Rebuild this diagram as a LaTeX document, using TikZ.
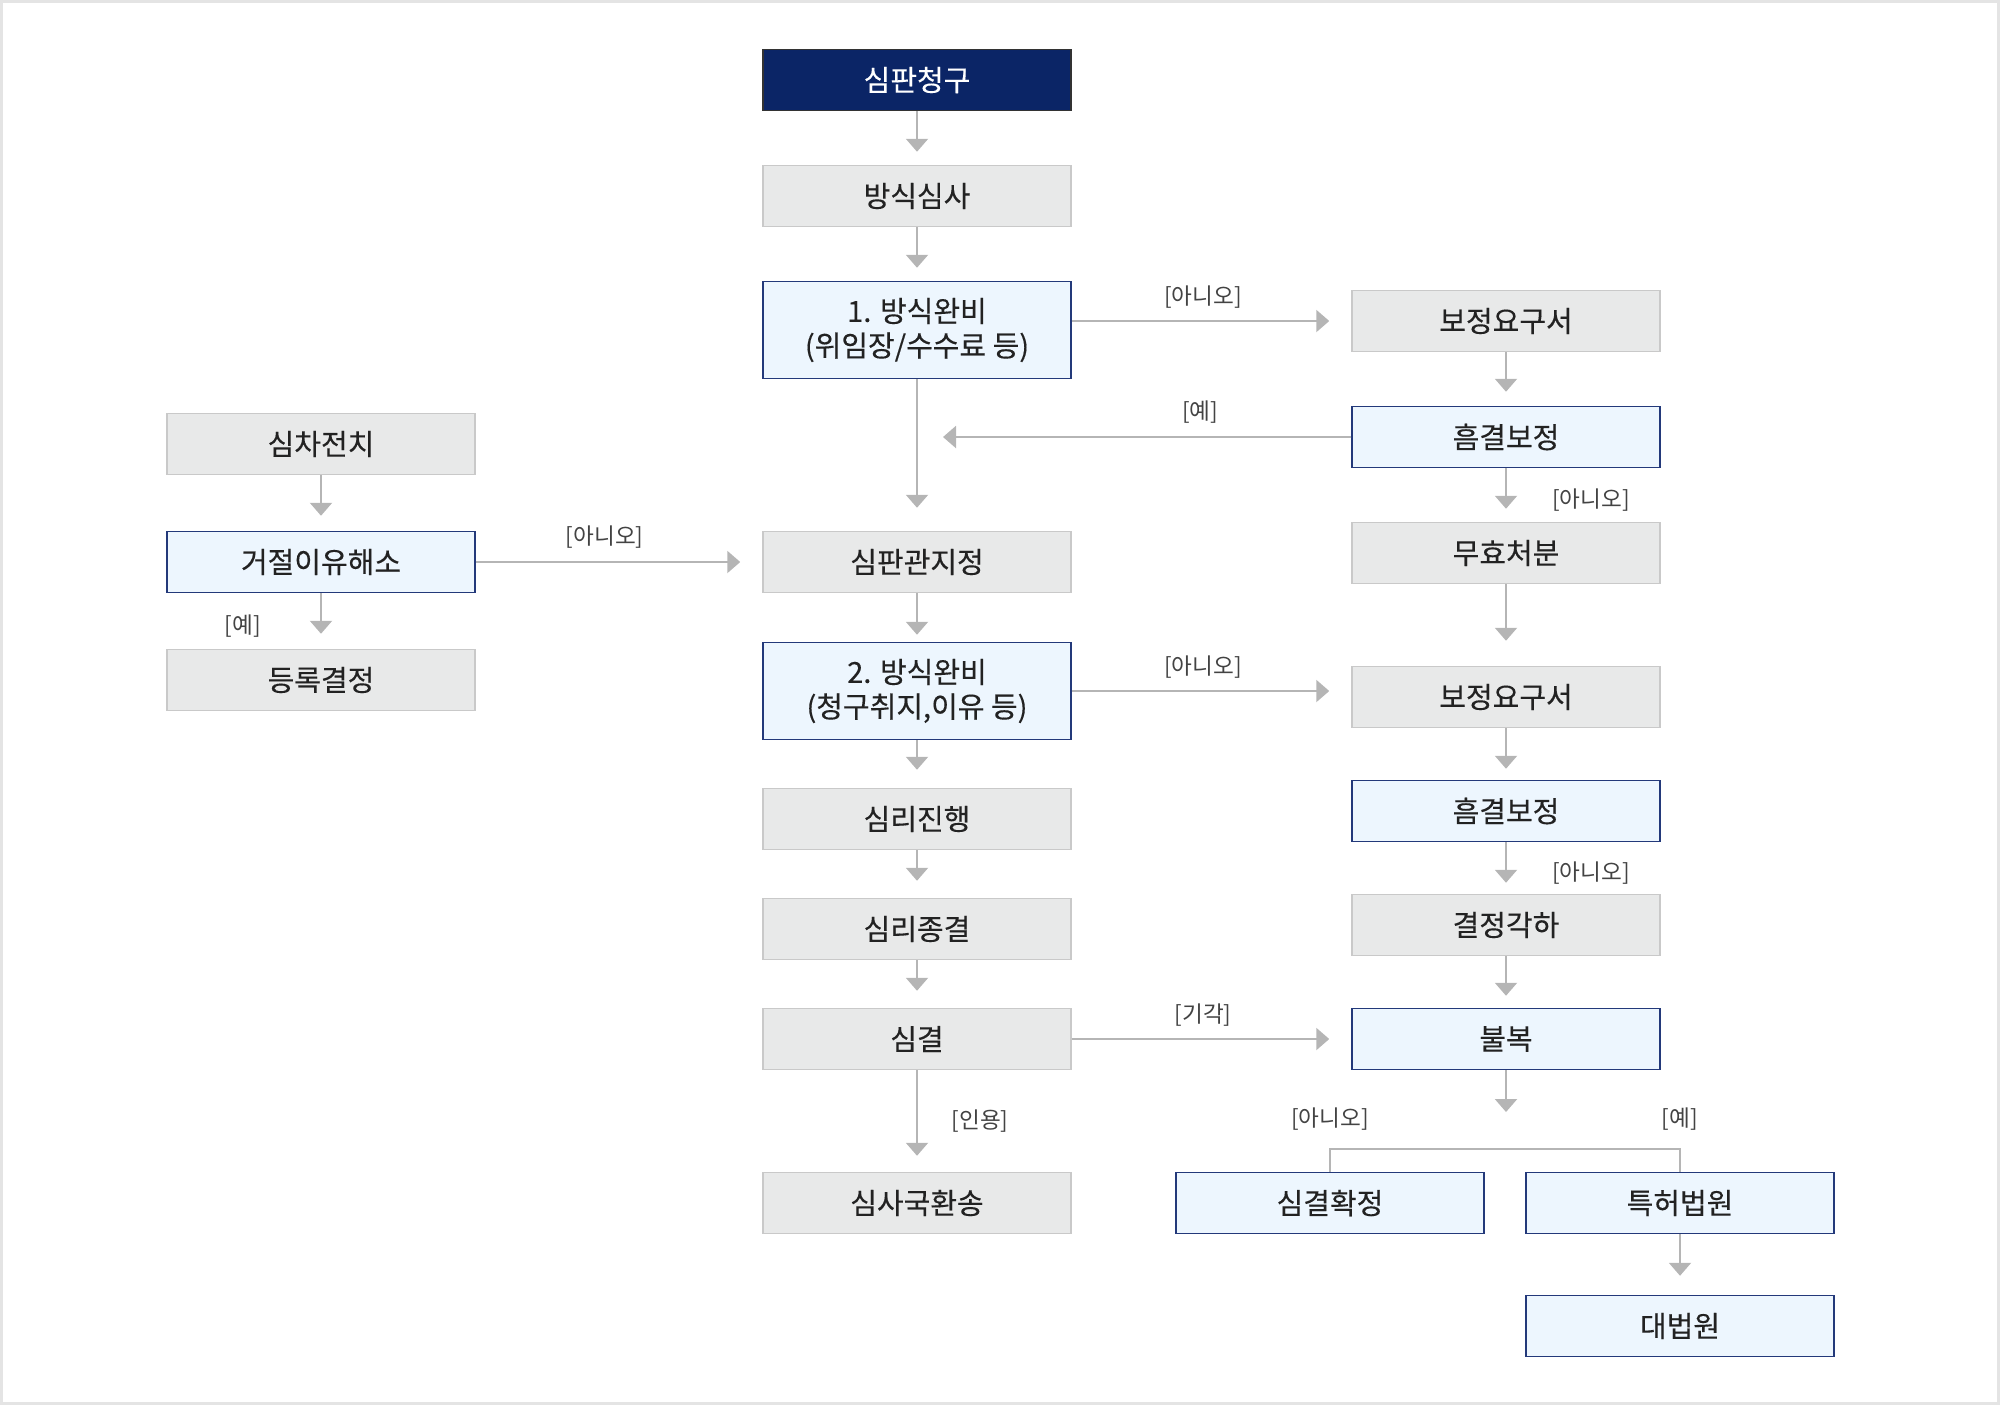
\documentclass[tikz,border=0pt]{standalone}
\usepackage{fontspec}
\setmainfont{Noto Sans CJK KR}
\newfontfamily\boxfont[FakeBold=0.3]{Noto Sans CJK KR}
\usetikzlibrary{arrows.meta}
\definecolor{navy}{HTML}{0B2566}
\definecolor{grayfill}{HTML}{E8E9E9}
\definecolor{grayline}{HTML}{C9C9C9}
\definecolor{bluefill}{HTML}{EDF6FE}
\definecolor{blueline}{HTML}{23397A}
\definecolor{arrowcol}{HTML}{B5B5B5}
\definecolor{txt}{HTML}{222222}
\definecolor{frame}{HTML}{E4E4E4}
\tikzset{
  boxbase/.style={rectangle, minimum width=154pt, minimum height=30.5pt, inner sep=0pt, align=center, text=txt, font=\boxfont\fontsize{14.5pt}{17.3pt}\selectfont, line width=0.75pt},
  graybox/.style={boxbase, fill=grayfill, draw=grayline},
  bluebox/.style={boxbase, fill=bluefill, draw=blueline},
  navybox/.style={boxbase, fill=navy, draw=black!80, text=white},
  tallbox/.style={minimum height=48.5pt},
  arr/.style={draw=arrowcol, line width=1.1pt, -{Triangle[width=11pt,length=6.5pt]}},
  ln/.style={draw=arrowcol, line width=1.1pt},
  lbl/.style={font=\fontsize{11.3pt}{13pt}\selectfont, text=txt!85, inner sep=0pt}
}
\begin{document}
\begin{tikzpicture}[x=0.5pt, y=-0.5pt]
\useasboundingbox (0,0) rectangle (2000,1405);
\draw[frame, line width=1.5pt] (1.5,1.5) rectangle (1998.5,1403.5);
% main column
\node[navybox] (top) at (917,80) {심판청구};
\node[graybox] (fs) at (917,196) {방식심사};
\node[bluebox, tallbox] (c1) at (917,330) {1. 방식완비\\(위임장/수수료 등)};
\node[graybox] (jd) at (917,562) {심판관지정};
\node[bluebox, tallbox] (c2) at (917,691) {2. 방식완비\\(청구취지,이유 등)};
\node[graybox] (sp) at (917,819) {심리진행};
\node[graybox] (se) at (917,929) {심리종결};
\node[graybox] (sg) at (917,1039) {심결};
\node[graybox] (rt) at (917,1203) {심사국환송};
% right column
\node[graybox] (r1) at (1506,321) {보정요구서};
\node[bluebox] (h1) at (1506,437) {흠결보정};
\node[graybox] (mu) at (1506,553) {무효처분};
\node[graybox] (r2) at (1506,697) {보정요구서};
\node[bluebox] (h2) at (1506,811) {흠결보정};
\node[graybox] (gk) at (1506,925) {결정각하};
\node[bluebox] (bb) at (1506,1039) {불복};
\node[bluebox] (sk) at (1330,1203) {심결확정};
\node[bluebox] (th) at (1680,1203) {특허법원};
\node[bluebox] (db) at (1680,1326) {대법원};
% left column
\node[graybox] (sc) at (321,444) {심차전치};
\node[bluebox] (gr) at (321,562) {거절이유해소};
\node[graybox] (rg) at (321,680) {등록결정};
% free coordinates
\coordinate (yesend) at (943,437);
\coordinate (bbend) at (1506,1112);
\coordinate (brl) at (1330,1149);
\coordinate (brr) at (1680,1149);
% arrows main column
\draw[arr, shorten >=6.5pt] (top) -- (fs);
\draw[arr, shorten >=6.5pt] (fs) -- (c1);
\draw[arr, shorten >=11.5pt] (c1) -- (jd);
\draw[arr, shorten >=3.5pt] (jd) -- (c2);
\draw[arr, shorten >=9pt] (c2) -- (sp);
\draw[arr, shorten >=8.5pt] (sp) -- (se);
\draw[arr, shorten >=8.5pt] (se) -- (sg);
\draw[arr, shorten >=8pt] (sg) -- node[lbl, pos=0.5, xshift=31.5pt] {[인용]} (rt);
% horizontal
\draw[arr, shorten >=11pt] (c1.east |- r1) -- node[lbl, pos=0.47, yshift=12pt] {[아니오]} (r1.west);
\draw[arr] (h1.west) -- node[lbl, pos=0.37, yshift=12.5pt] {[예]} (yesend);
\draw[arr, shorten >=11pt] (c2.east) -- node[lbl, pos=0.47, yshift=12pt] {[아니오]} (c2.east -| r2.west);
\draw[arr, shorten >=11pt] (sg.east) -- node[lbl, pos=0.47, yshift=12pt] {[기각]} (bb.west);
\draw[arr, shorten >=11pt] (gr.east) -- node[lbl, pos=0.45, yshift=12.5pt] {[아니오]} (jd.west);
% right column
\draw[arr, shorten >=7pt] (r1) -- (h1);
\draw[arr, shorten >=6.5pt] (h1) -- node[lbl, pos=0.6, xshift=42.5pt] {[아니오]} (mu);
\draw[arr, shorten >=12.5pt] (mu) -- (r2);
\draw[arr, shorten >=5.5pt] (r2) -- (h2);
\draw[arr, shorten >=5.5pt] (h2) -- node[lbl, pos=0.6, xshift=42.5pt] {[아니오]} (gk);
\draw[arr, shorten >=6pt] (gk) -- (bb);
\draw[arr] (bb.south) -- (bbend);
\draw[ln] (sk.north) -- (brl) -- (brr) -- (th.north);
\node[lbl] (lno) at (1330,1119) {[아니오]};
\node[lbl] (lyes) at (1680,1119) {[예]};
\draw[arr, shorten >=9.5pt] (th) -- (db);
% left column
\draw[arr, shorten >=7.5pt] (sc) -- (gr);
\draw[arr, shorten >=7.5pt] (gr) -- node[lbl, pos=0.6, xshift=-39pt] {[예]} (rg);
\end{tikzpicture}
\end{document}
